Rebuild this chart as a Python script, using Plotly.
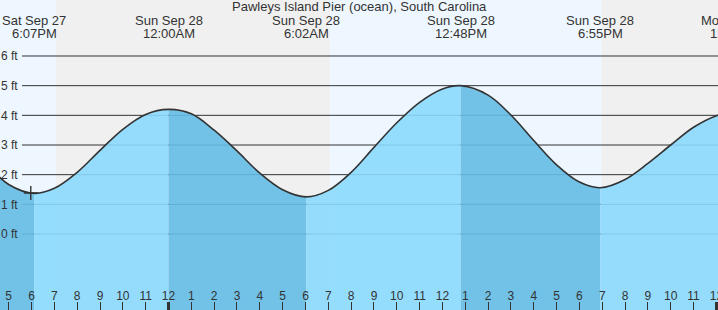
import plotly.graph_objects as go
import pandas as pd

# ---------------- data ----------------
title_text = "Pawleys Island Pier (ocean), South Carolina"

# tide curve (time, height in ft)
times = [
    "2025-09-27 15:00", "2025-09-27 16:00", "2025-09-27 17:00", "2025-09-27 18:07",
    "2025-09-27 19:00", "2025-09-27 20:00", "2025-09-27 21:00", "2025-09-27 22:00",
    "2025-09-27 23:00", "2025-09-28 00:00", "2025-09-28 01:00", "2025-09-28 02:00",
    "2025-09-28 03:00", "2025-09-28 04:00", "2025-09-28 05:00", "2025-09-28 06:02",
    "2025-09-28 07:00", "2025-09-28 08:00", "2025-09-28 09:00", "2025-09-28 10:00",
    "2025-09-28 11:00", "2025-09-28 12:00", "2025-09-28 12:48", "2025-09-28 14:00",
    "2025-09-28 15:00", "2025-09-28 16:00", "2025-09-28 17:00", "2025-09-28 18:00",
    "2025-09-28 18:55", "2025-09-28 20:00", "2025-09-28 21:00", "2025-09-28 22:00",
    "2025-09-28 23:00", "2025-09-29 00:00", "2025-09-29 00:52",
]
heights = [
    3.34, 2.39, 1.67, 1.37,
    1.54, 2.08, 2.82, 3.53,
    4.03, 4.20, 4.05, 3.50,
    2.80, 2.05, 1.49, 1.25,
    1.47, 2.08, 2.92, 3.75,
    4.44, 4.89, 5.00, 4.68,
    4.01, 3.15, 2.33, 1.75,
    1.56, 1.84, 2.38, 3.00,
    3.60, 3.99, 4.15,
]

# high / low tide events
ext_times = ["2025-09-27 18:07", "2025-09-28 00:00", "2025-09-28 06:02",
             "2025-09-28 12:48", "2025-09-28 18:55", "2025-09-29 00:52"]
ext_day = ["Sat Sep 27", "Sun Sep 28", "Sun Sep 28", "Sun Sep 28", "Sun Sep 28", "Mon Sep 29"]
ext_clock = ["6:07PM", "12:00AM", "6:02AM", "12:48PM", "6:55PM", "12:52AM"]

# daylight periods (start, end)
day_periods = [("2025-09-27 12:00", "2025-09-27 19:04"),
               ("2025-09-28 07:04", "2025-09-28 18:58")]

# current-time marker
now_time = "2025-09-27 17:58"
now_height = 1.38

# axis ticks
tick_times = ["2025-09-27 17:00", "2025-09-27 18:00", "2025-09-27 19:00", "2025-09-27 20:00",
              "2025-09-27 21:00", "2025-09-27 22:00", "2025-09-27 23:00", "2025-09-28 00:00",
              "2025-09-28 01:00", "2025-09-28 02:00", "2025-09-28 03:00", "2025-09-28 04:00",
              "2025-09-28 05:00", "2025-09-28 06:00", "2025-09-28 07:00", "2025-09-28 08:00",
              "2025-09-28 09:00", "2025-09-28 10:00", "2025-09-28 11:00", "2025-09-28 12:00",
              "2025-09-28 13:00", "2025-09-28 14:00", "2025-09-28 15:00", "2025-09-28 16:00",
              "2025-09-28 17:00", "2025-09-28 18:00", "2025-09-28 19:00", "2025-09-28 20:00",
              "2025-09-28 21:00", "2025-09-28 22:00", "2025-09-28 23:00", "2025-09-29 00:00"]
tick_labels = ["5", "6", "7", "8", "9", "10", "11", "12", "1", "2", "3", "4", "5", "6", "7", "8",
               "9", "10", "11", "12", "1", "2", "3", "4", "5", "6", "7", "8", "9", "10", "11", "12"]
midnights = ["2025-09-28 00:00", "2025-09-29 00:00"]

y_ticks = [0, 1, 2, 3, 4, 5, 6]
y_labels = ["0 ft", "1 ft", "2 ft", "3 ft", "4 ft", "5 ft", "6 ft"]

# ---------------- style ----------------
x_range = ["2025-09-27 16:37:08", "2025-09-29 00:04:12"]
y_range = [-2.561, 7.887]
W, H = 718, 310
FONT = "Liberation Sans, Arial, sans-serif"
TXT = "#333333"
NIGHT = "#f0f0f0"
DAY = "#eef7ff"
LIGHT_FILL = "rgba(139,217,253,0.9)"
DARK_FILL = "rgba(100,187,228,0.9)"

fig = go.Figure()

ts = pd.to_datetime(pd.Series(times))
hs = pd.Series(heights)
ext_ts = pd.to_datetime(pd.Series(ext_times))

bounds = [ts.iloc[0]] + [e for e in ext_ts if ts.iloc[0] < e < ts.iloc[-1]] + [ts.iloc[-1]]
base = y_range[0] - 1
for a, b in zip(bounds[:-1], bounds[1:]):
    m = (ts >= a) & (ts <= b)
    sx = ts[m]
    sy = hs[m]
    falling = sy.iloc[-1] < sy.iloc[0]
    fig.add_trace(go.Scatter(x=[a, b], y=[base, base], mode="lines",
                             line=dict(width=0), hoverinfo="skip", showlegend=False))
    fig.add_trace(go.Scatter(x=sx, y=sy, mode="lines", fill="tonexty",
                             fillcolor=DARK_FILL if falling else LIGHT_FILL,
                             line=dict(width=0, shape="spline", smoothing=1),
                             hoverinfo="skip", showlegend=False))

fig.add_trace(go.Scatter(x=ts, y=hs, mode="lines",
                         line=dict(color=TXT, width=1.6, shape="spline", smoothing=1),
                         showlegend=False))
fig.add_trace(go.Scatter(x=[now_time], y=[now_height], mode="markers",
                         marker=dict(symbol="cross-thin", size=10,
                                     line=dict(width=1.4, color=TXT)),
                         showlegend=False))

# day bands
for d0, d1 in day_periods:
    fig.add_vrect(x0=d0, x1=d1, fillcolor=DAY, line_width=0, layer="below")

# grid lines (start right of the labels)
for v in y_ticks:
    fig.add_shape(type="line", xref="paper", yref="y", x0=22 / W, x1=1, y0=v, y1=v,
                  line=dict(color=TXT, width=1), layer="between")

# annotations
t0 = pd.Timestamp(x_range[0])
t1 = pd.Timestamp(x_range[1])
def xfrac(t):
    return (pd.Timestamp(t) - t0) / (t1 - t0)

fig.add_annotation(text=title_text, xref="paper", yref="paper", x=0.5, y=1 - 6.2 / H,
                   xanchor="center", yanchor="middle", showarrow=False,
                   font=dict(family=FONT, size=13, color=TXT))
for t, d, c in zip(ext_times, ext_day, ext_clock):
    fig.add_annotation(text=d, xref="paper", yref="paper", x=xfrac(t), y=1 - 20.7 / H,
                       xanchor="center", yanchor="middle", showarrow=False,
                       font=dict(family=FONT, size=13, color=TXT))
    fig.add_annotation(text=c, xref="paper", yref="paper", x=xfrac(t), y=1 - 33.2 / H,
                       xanchor="center", yanchor="middle", showarrow=False,
                       font=dict(family=FONT, size=13, color=TXT))

fig.update_layout(
    width=W, height=H, margin=dict(l=0, r=0, t=0, b=0, autoexpand=False),
    paper_bgcolor=NIGHT, plot_bgcolor=NIGHT, showlegend=False,
    xaxis=dict(type="date", range=x_range, showgrid=False, zeroline=False, showline=False,
               tickmode="array", tickvals=tick_times, automargin=False,
               ticks="inside", ticklen=8, tickwidth=1, tickcolor=TXT,
               showticklabels=False),
    xaxis2=dict(type="date", range=x_range, overlaying="x", anchor="y", side="bottom",
                showgrid=False, zeroline=False, showline=False, automargin=False,
                tickmode="array", tickvals=midnights, ticks="inside", ticklen=8,
                tickwidth=3, tickcolor=TXT, showticklabels=False),
    xaxis3=dict(type="date", range=x_range, overlaying="x", anchor="free", side="top",
                position=8 / H, showgrid=False, zeroline=False, showline=False,
                tickmode="array", tickvals=tick_times, ticktext=tick_labels, ticks="",
                ticklabeloverflow="allow", automargin=False,
                tickfont=dict(family=FONT, size=12, color=TXT)),
    yaxis=dict(range=y_range, showgrid=False, zeroline=False, showline=False,
               showticklabels=False, ticks="", automargin=False),
    yaxis2=dict(range=y_range, overlaying="y", anchor="free", side="right", position=0,
                showgrid=False, zeroline=False, showline=False, automargin=False,
                tickmode="array", tickvals=y_ticks, ticktext=y_labels, ticks="",
                ticklabeloverflow="allow",
                tickfont=dict(family=FONT, size=12, color=TXT)),
)
fig.add_trace(go.Scatter(x=[x_range[0]], y=[base], xaxis="x2", mode="markers",
                         marker=dict(opacity=0), hoverinfo="skip", showlegend=False))
fig.add_trace(go.Scatter(x=[x_range[0]], y=[base], xaxis="x3", mode="markers",
                         marker=dict(opacity=0), hoverinfo="skip", showlegend=False))
fig.add_trace(go.Scatter(x=[x_range[0]], y=[base], yaxis="y2", mode="markers",
                         marker=dict(opacity=0), hoverinfo="skip", showlegend=False))

fig.write_html("out.html")
